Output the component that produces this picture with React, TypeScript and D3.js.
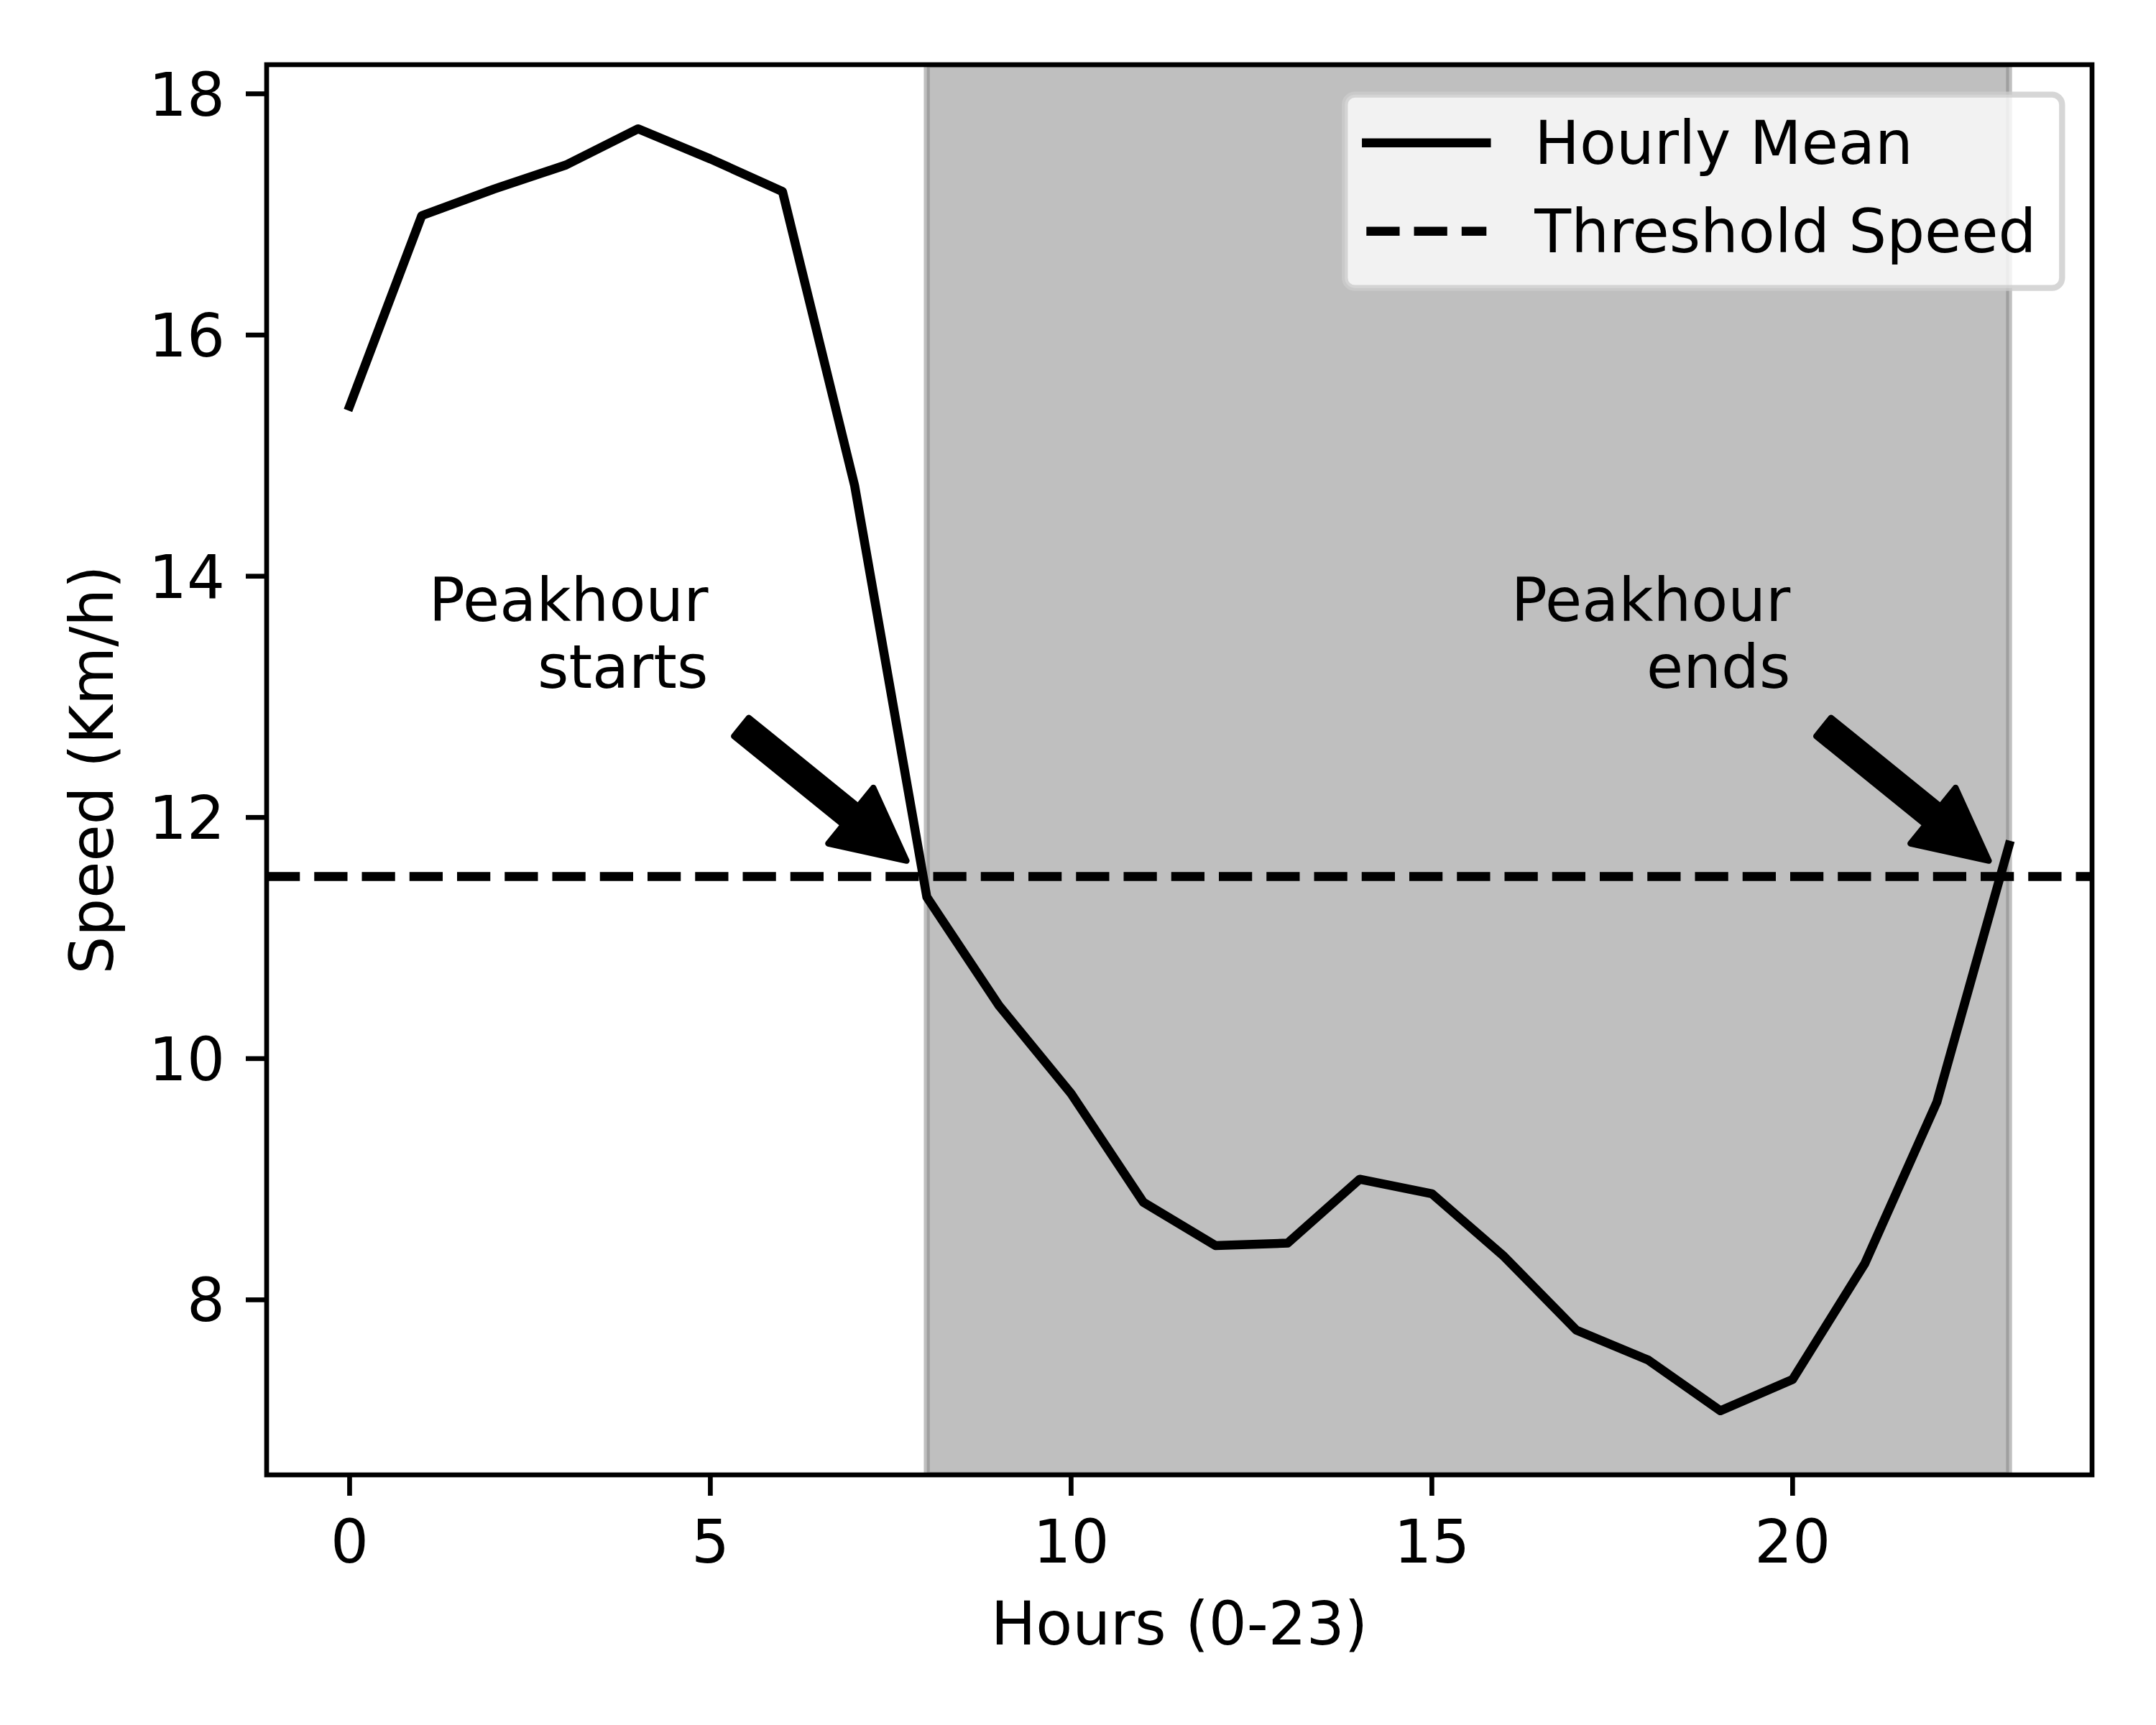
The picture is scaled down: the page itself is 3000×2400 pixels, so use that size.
import React, { useEffect, useRef } from 'react';
import * as d3 from 'd3';

// hourly averages
const hours = [0, 1, 2, 3, 4, 5, 6, 7, 8, 9, 10, 11, 12, 13, 14, 15, 16, 17, 18, 19, 20, 21, 22, 23];
const hourlyMean = [15.41, 16.99, 17.21, 17.41, 17.71, 17.46, 17.19, 14.75, 11.34, 10.44, 9.71, 8.81,
  8.45, 8.47, 9.0, 8.88, 8.36, 7.75, 7.5, 7.08, 7.34, 8.3, 9.64, 11.77];
const thresholdSpeed = 11.51;
const peakSpan = [8, 23];

const xTicks = [0, 5, 10, 15, 20];
const yTicks = [8, 10, 12, 14, 16, 18];

const annotationLines = [['Peakhour', 'starts'], ['Peakhour', 'ends']];
const annotationText = [[5, 13], [20, 13]];
const arrowTails = [[5.43, 12.75], [20.43, 12.75]];
const arrowTips = [[7.72, 11.64], [22.72, 11.64]];

const legendLabels = ['Hourly Mean', 'Threshold Speed'];

const FONT = '"DejaVu Sans", Verdana, sans-serif';
const FS = 83.3;

const App: React.FC = () => {
  const svgRef = useRef<SVGSVGElement | null>(null);

  useEffect(() => {
    if (!svgRef.current) return;
    const svg = d3.select(svgRef.current);
    svg.selectAll('*').remove();

    const width = 3000;
    const height = 2400;
    const box = { left: 371, right: 2911, top: 90, bottom: 2052 };

    // matplotlib-like 5% margins
    const [xmin, xmax] = d3.extent(hours) as [number, number];
    const xpad = (xmax - xmin) * 0.05;
    const [ymin, ymax] = d3.extent(hourlyMean) as [number, number];
    const ypad = (ymax - ymin) * 0.05;

    const x = d3.scaleLinear().domain([xmin - xpad, xmax + xpad]).range([box.left, box.right]);
    const y = d3.scaleLinear().domain([ymin - ypad, ymax + ypad]).range([box.bottom, box.top]);

    svg.append('rect').attr('width', width).attr('height', height).attr('fill', 'white');

    svg.append('defs').append('clipPath').attr('id', 'plot-clip')
      .append('rect')
      .attr('x', box.left).attr('y', box.top)
      .attr('width', box.right - box.left).attr('height', box.bottom - box.top);

    const plot = svg.append('g').attr('clip-path', 'url(#plot-clip)');

    // peak hour span
    plot.append('rect')
      .attr('x', x(peakSpan[0]))
      .attr('y', box.top)
      .attr('width', x(peakSpan[1]) - x(peakSpan[0]))
      .attr('height', box.bottom - box.top)
      .attr('fill', 'gray').attr('fill-opacity', 0.5)
      .attr('stroke', 'gray').attr('stroke-opacity', 0.5).attr('stroke-width', 8.3);

    // threshold
    plot.append('line')
      .attr('x1', box.left).attr('x2', box.right)
      .attr('y1', y(thresholdSpeed)).attr('y2', y(thresholdSpeed))
      .attr('stroke', 'black').attr('stroke-width', 12.5)
      .attr('stroke-dasharray', '46.25,20');

    const line = d3.line<number>().x((_, i) => x(hours[i])).y(d => y(d));
    plot.append('path')
      .attr('d', line(hourlyMean) || '')
      .attr('fill', 'none').attr('stroke', 'black').attr('stroke-width', 12.5)
      .attr('stroke-linecap', 'square').attr('stroke-linejoin', 'round');

    // annotations
    const arrowShape = (tail: number[], tip: number[]) => {
      const x0 = x(tail[0]), y0 = y(tail[1]);
      const x1 = x(tip[0]), y1 = y(tip[1]);
      const len = Math.hypot(x1 - x0, y1 - y0);
      const ux = (x1 - x0) / len, uy = (y1 - y0) / len;
      const nx = -uy, ny = ux;
      const w = 16.5, hw = 50, hl = 100;
      const bx = x1 - ux * hl, by = y1 - uy * hl;
      const pts = [
        [x0 + nx * w, y0 + ny * w],
        [bx + nx * w, by + ny * w],
        [bx + nx * hw, by + ny * hw],
        [x1, y1],
        [bx - nx * hw, by - ny * hw],
        [bx - nx * w, by - ny * w],
        [x0 - nx * w, y0 - ny * w],
      ];
      return 'M' + pts.map(p => p.join(',')).join('L') + 'Z';
    };

    annotationLines.forEach((lines, k) => {
      const tx = x(annotationText[k][0]) - 3;
      const lastBase = y(annotationText[k][1]) - 12;
      lines.forEach((txt, j) => {
        svg.append('text')
          .attr('x', tx)
          .attr('y', lastBase - (lines.length - 1 - j) * 93)
          .attr('text-anchor', 'end')
          .attr('font-family', FONT).attr('font-size', FS)
          .text(txt);
      });
      svg.append('path')
        .attr('d', arrowShape(arrowTails[k], arrowTips[k]))
        .attr('fill', 'black').attr('stroke', 'black')
        .attr('stroke-width', 8.3).attr('stroke-linejoin', 'round');
    });

    // spines
    svg.append('rect')
      .attr('x', box.left).attr('y', box.top)
      .attr('width', box.right - box.left).attr('height', box.bottom - box.top)
      .attr('fill', 'none').attr('stroke', 'black').attr('stroke-width', 6.7)
      .attr('stroke-linecap', 'square');

    // x axis
    const xAxis = svg.append('g');
    xTicks.forEach(t => {
      xAxis.append('line')
        .attr('x1', x(t)).attr('x2', x(t))
        .attr('y1', box.bottom).attr('y2', box.bottom + 29)
        .attr('stroke', 'black').attr('stroke-width', 6.7);
      xAxis.append('text')
        .attr('x', x(t)).attr('y', 2174)
        .attr('text-anchor', 'middle')
        .attr('font-family', FONT).attr('font-size', FS)
        .text(t);
    });
    svg.append('text')
      .attr('x', (box.left + box.right) / 2).attr('y', 2288)
      .attr('text-anchor', 'middle')
      .attr('font-family', FONT).attr('font-size', FS)
      .text('Hours (0-23)');

    // y axis
    const yAxis = svg.append('g');
    yTicks.forEach(t => {
      yAxis.append('line')
        .attr('x1', box.left - 29).attr('x2', box.left)
        .attr('y1', y(t)).attr('y2', y(t))
        .attr('stroke', 'black').attr('stroke-width', 6.7);
      yAxis.append('text')
        .attr('x', box.left - 58).attr('y', y(t) + 30)
        .attr('text-anchor', 'end')
        .attr('font-family', FONT).attr('font-size', FS)
        .text(t);
    });
    svg.append('text')
      .attr('transform', `translate(157,${(box.top + box.bottom) / 2}) rotate(-90)`)
      .attr('text-anchor', 'middle')
      .attr('font-family', FONT).attr('font-size', FS)
      .text('Speed (Km/h)');

    // legend
    const lgW = 998, lgH = 269;
    const lgX = box.right - 41.7 - lgW, lgY = box.top + 41.7;
    const legend = svg.append('g');
    legend.append('rect')
      .attr('x', lgX).attr('y', lgY).attr('width', lgW).attr('height', lgH)
      .attr('rx', 14).attr('ry', 14)
      .attr('fill', 'white').attr('fill-opacity', 0.8)
      .attr('stroke', '#cccccc').attr('stroke-opacity', 0.8).attr('stroke-width', 8.3);
    legendLabels.forEach((label, i) => {
      const cy = lgY + 67 + i * 123;
      legend.append('line')
        .attr('x1', lgX + 30).attr('x2', lgX + 197)
        .attr('y1', cy).attr('y2', cy)
        .attr('stroke', 'black').attr('stroke-width', 12.5)
        .attr('stroke-linecap', i === 0 ? 'square' : 'butt')
        .attr('stroke-dasharray', i === 0 ? null : '46.25,20');
      legend.append('text')
        .attr('x', lgX + 264).attr('y', cy + 29)
        .attr('font-family', FONT).attr('font-size', FS)
        .text(label);
    });
  }, []);

  return (
    <svg ref={svgRef} width="3000" height="2400"
      style={{ position: 'absolute', left: 0, top: 0 }}></svg>
  );
};

export default App;
